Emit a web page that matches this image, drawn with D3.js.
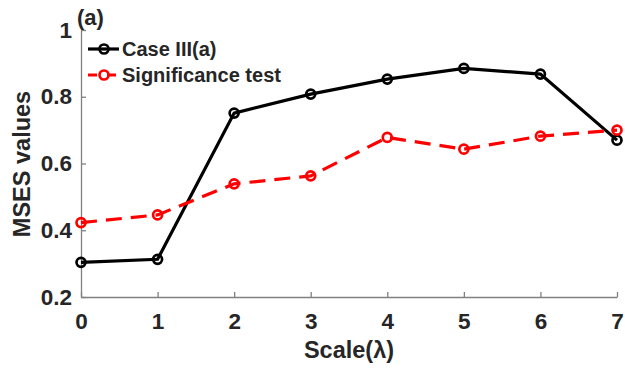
<!DOCTYPE html>
<html><head><meta charset="utf-8">
<script src="https://cdn.jsdelivr.net/npm/d3@7"></script>
<style>body{margin:0;background:#fff}svg{display:block}text{font-family:"Liberation Sans",Arial,sans-serif;font-weight:bold;fill:#262626}</style>
</head><body>
<script>
const scales = [0,1,2,3,4,5,6,7];
const caseIII = [0.304,0.313,0.751,0.808,0.853,0.885,0.868,0.670];
const sigTest = [0.423,0.446,0.539,0.563,0.678,0.643,0.682,0.700];
const yTicks = [0.2,0.4,0.6,0.8,1];
const seriesNames = ["Case III(a)","Significance test"];

const W=625,H=370, m={l:81,r:8,t:30,b:73};
const svg=d3.select("body").append("svg").attr("width",W).attr("height",H);
const x=d3.scaleLinear().domain([0,7]).range([m.l,W-m.r]);
const y=d3.scaleLinear().domain([0.2,1]).range([H-m.b,m.t]);
const axisCol="#808080";

const gx=svg.append("g").attr("transform",`translate(0,${H-m.b})`)
  .call(d3.axisBottom(x).tickValues(scales).tickFormat(d3.format("d")).tickSizeInner(-5).tickSizeOuter(0).tickPadding(16));
const gy=svg.append("g").attr("transform",`translate(${m.l},0)`)
  .call(d3.axisLeft(y).tickValues(yTicks).tickFormat(d=>d===1?"1":d3.format(".1f")(d)).tickSizeInner(-5).tickSizeOuter(0).tickPadding(9));
[gx,gy].forEach(g=>{g.selectAll("path,line").attr("stroke",axisCol).attr("stroke-width",1.3);
  g.selectAll("text").style("font-size","22.5px").attr("fill","#262626");});

svg.append("text").attr("x",349).attr("y",358).attr("text-anchor","middle").style("font-size","23.5px").text("Scale(λ)");
svg.append("text").attr("transform","translate(30,164) rotate(-90)").attr("text-anchor","middle").style("font-size","23.5px").text("MSES values");
svg.append("text").attr("x",77).attr("y",25).style("font-size","22px").text("(a)");

const line=d3.line().x((d,i)=>x(scales[i])).y(d=>y(d));
function drawSeries(vals,col,dash){
  svg.append("path").datum(vals).attr("d",line).attr("fill","none").attr("stroke",col).attr("stroke-width",3.2)
    .attr("stroke-dasharray",dash||null);
  svg.append("g").selectAll("circle").data(vals).join("circle")
    .attr("cx",(d,i)=>x(scales[i])).attr("cy",d=>y(d)).attr("r",4.5)
    .attr("fill","none").attr("stroke",col).attr("stroke-width",2.7);
}
drawSeries(caseIII,"#000");
drawSeries(sigTest,"#ff0000","16,9");

// legend
const lg=svg.append("g");
const rows=[{n:seriesNames[0],c:"#000",d:null,y:49},{n:seriesNames[1],c:"#ff0000",d:"9,10",y:75}];
rows.forEach(r=>{
  lg.append("line").attr("x1",88).attr("x2",119).attr("y1",r.y).attr("y2",r.y).attr("stroke",r.c).attr("stroke-width",3.2).attr("stroke-dasharray",r.d);
  lg.append("circle").attr("cx",104).attr("cy",r.y).attr("r",4.5).attr("fill","none").attr("stroke",r.c).attr("stroke-width",2.7);
  lg.append("text").attr("x",122).attr("y",r.y+7).style("font-size","20px").text(r.n);
});
</script>
</body></html>
